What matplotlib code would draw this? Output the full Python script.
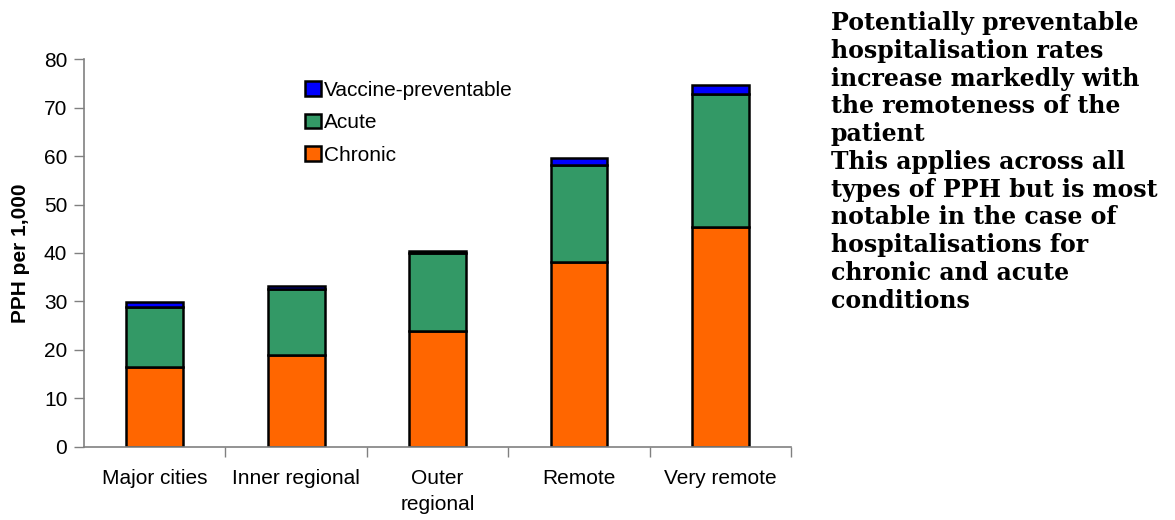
import matplotlib.pyplot as plt
import numpy as np

regions = ["Major cities", "Inner regional", "Outer\nregional", "Remote", "Very remote"]
chronic = [16.5, 18.9, 23.9, 38.1, 45.3]
acute = [12.3, 13.7, 16.0, 20.0, 27.5]
vaccine = [1.0, 0.6, 0.6, 1.5, 1.9]

notes = ("Potentially preventable\nhospitalisation rates\nincrease markedly with\n"
         "the remoteness of the\npatient")
notes2 = ("This applies across all\ntypes of PPH but is most\nnotable in the case of\n"
          "hospitalisations for\nchronic and acute\nconditions")

plt.rcParams["font.family"] = ["Liberation Sans", "DejaVu Sans"]

fig = plt.figure(figsize=(11.75, 5.2), dpi=100)
ax = fig.add_axes([0.0715, 0.141, 0.602, 0.745])

x = np.arange(len(regions))
bottom2 = np.array(chronic) + np.array(acute)
ax.bar(x, chronic, width=0.4, color="#FF6600", edgecolor="black", linewidth=1.8, label="Chronic")
ax.bar(x, acute, width=0.4, bottom=chronic, color="#339966", edgecolor="black", linewidth=1.8, label="Acute")
ax.bar(x, vaccine, width=0.4, bottom=bottom2, color="#0000FF", edgecolor="black", linewidth=1.8,
       label="Vaccine-preventable")

ax.set_xlim(-0.5, 4.5)
ax.set_ylim(0, 80)
ax.set_yticks(range(0, 81, 10))
ax.set_xticks(x)
ax.set_xticklabels(regions)
for lbl in ax.get_xticklabels():
    lbl.set_linespacing(1.5)
ax.set_xticks(np.arange(0.5, 4.6, 1), minor=True)
ax.tick_params(axis="x", which="major", length=0, pad=16, labelsize=15)
ax.tick_params(axis="x", which="minor", length=7, color="#808080", width=1)
ax.tick_params(axis="y", length=7, color="#808080", width=1, labelsize=15, pad=5)
ax.set_ylabel("PPH per 1,000", fontsize=15, fontweight="bold", labelpad=10)

for s in ["top", "right"]:
    ax.spines[s].set_visible(False)
for s in ["left", "bottom"]:
    ax.spines[s].set_color("#808080")
    ax.spines[s].set_linewidth(1.2)

handles, labels = ax.get_legend_handles_labels()
ax.legend(handles[::-1], labels[::-1], loc="upper left", bbox_to_anchor=(0.3126, 0.945),
          frameon=False, fontsize=15, handlelength=0.77, handleheight=0.72,
          handletextpad=0.15, labelspacing=0.66, borderaxespad=0, borderpad=0)

fig.text(0.707, 0.979, notes, fontsize=17, fontweight="bold", family="DejaVu Serif",
         va="top", ha="left", linespacing=1.2)
fig.text(0.707, 0.712, notes2, fontsize=17, fontweight="bold", family="DejaVu Serif",
         va="top", ha="left", linespacing=1.2)

plt.savefig("out.png", dpi=100)
